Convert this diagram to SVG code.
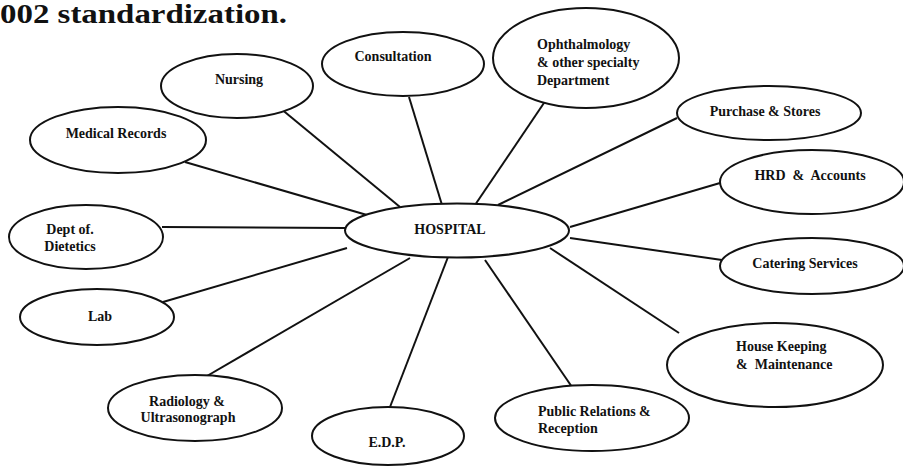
<svg xmlns="http://www.w3.org/2000/svg" width="903" height="468" viewBox="0 0 903 468">
<style>
.n{fill:#fff;stroke:#111;stroke-width:2}
.c line{stroke:#111;stroke-width:2}
.t{font-family:"Liberation Serif","Times New Roman",serif;font-weight:bold;font-size:14px;fill:#111}
.m{text-anchor:middle}
</style>
<rect width="903" height="468" fill="#fff"/>
<text x="0" y="23" font-family="'Liberation Serif',serif" font-weight="bold" font-size="27" fill="#111" textLength="287" lengthAdjust="spacingAndGlyphs">002 standardization.</text>
<g class="c" id="connectors">
<line x1="280" y1="108" x2="400" y2="207"/>
<line x1="409" y1="97" x2="442" y2="205"/>
<line x1="185" y1="162" x2="367" y2="215"/>
<line x1="162" y1="227" x2="345" y2="228"/>
<line x1="548" y1="97" x2="475" y2="205"/>
<line x1="677" y1="118" x2="498" y2="205"/>
<line x1="720" y1="183" x2="570" y2="227"/>
<line x1="163" y1="302" x2="347" y2="248"/>
<line x1="207" y1="376" x2="410" y2="258"/>
<line x1="390" y1="407" x2="448" y2="257"/>
<line x1="570" y1="238" x2="722" y2="260"/>
<line x1="550" y1="248" x2="679" y2="333"/>
<line x1="485" y1="260" x2="572" y2="387"/>
</g>
<g id="hospital"><ellipse class="n" cx="457" cy="230.5" rx="112" ry="27"/><text class="t m" x="450" y="234">HOSPITAL</text></g>
<g id="nursing"><ellipse class="n" cx="237" cy="86" rx="76" ry="32"/><text class="t m" x="239" y="84">Nursing</text></g>
<g id="consultation"><ellipse class="n" cx="403" cy="64" rx="81" ry="32"/><text class="t m" x="393" y="61">Consultation</text></g>
<g id="medical-records"><ellipse class="n" cx="118" cy="140" rx="88" ry="33"/><text class="t m" x="116" y="138">Medical Records</text></g>
<g id="dietetics"><ellipse class="n" cx="86" cy="237" rx="77" ry="32"/><text class="t m" x="70" y="234">Dept of.</text><text class="t m" x="70" y="251">Dietetics</text></g>
<g id="lab"><ellipse class="n" cx="97" cy="317" rx="77" ry="28"/><text class="t m" x="100" y="321">Lab</text></g>
<g id="radiology"><ellipse class="n" cx="195" cy="408" rx="87" ry="33"/><text class="t m" x="187" y="406">Radiology &amp;</text><text class="t m" x="188" y="422">Ultrasonograph</text></g>
<g id="edp"><ellipse class="n" cx="388" cy="436" rx="76" ry="29"/><text class="t m" x="387" y="447">E.D.P.</text></g>
<g id="ophthalmology"><ellipse class="n" cx="586" cy="58" rx="93" ry="50"/><text class="t" x="537" y="49">Ophthalmology</text><text class="t" x="537" y="67">&amp; other specialty</text><text class="t" x="537" y="85">Department</text></g>
<g id="purchase"><ellipse class="n" cx="769" cy="113" rx="92" ry="27"/><text class="t m" x="765" y="116">Purchase &amp; Stores</text></g>
<g id="hrd"><ellipse class="n" cx="812" cy="182" rx="92" ry="32"/><text class="t m" x="810" y="180" xml:space="preserve">HRD  &amp;  Accounts</text></g>
<g id="catering"><ellipse class="n" cx="812" cy="266" rx="92" ry="28"/><text class="t m" x="805" y="268">Catering Services</text></g>
<g id="housekeeping"><ellipse class="n" cx="775" cy="365" rx="108" ry="42"/><text class="t" x="736" y="351">House Keeping</text><text class="t" x="736" y="369" xml:space="preserve">&amp;  Maintenance</text></g>
<g id="public-relations"><ellipse class="n" cx="592" cy="418" rx="97" ry="33"/><text class="t" x="538" y="416">Public Relations &amp;</text><text class="t" x="538" y="433">Reception</text></g>
</svg>
